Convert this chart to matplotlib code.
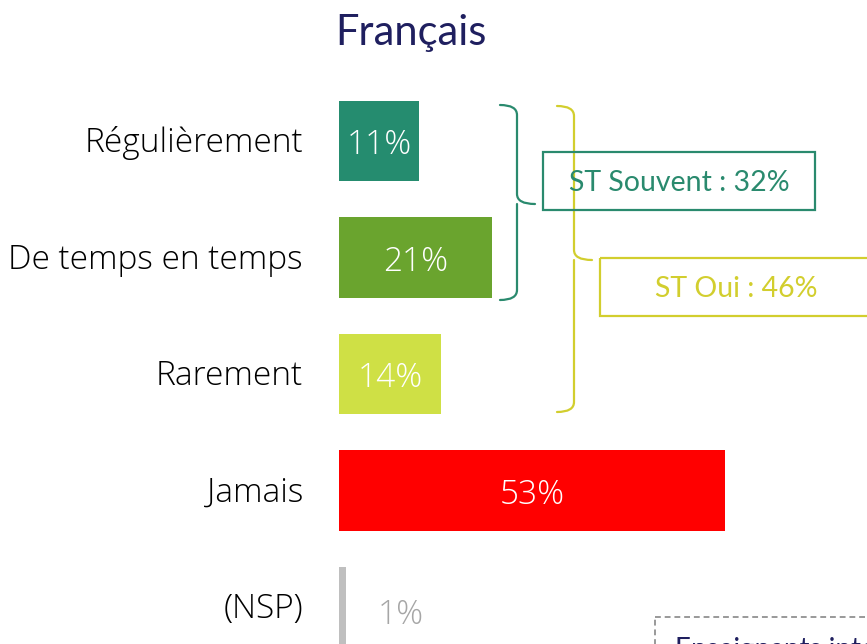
import matplotlib.pyplot as plt
from matplotlib.patches import Rectangle
from matplotlib.path import Path
from matplotlib.patches import PathPatch

plt.rcParams['font.family'] = ['Lato', 'DejaVu Sans']
thin = ['Open Sans', 'DejaVu Sans']

categories = ['Régulièrement', 'De temps en temps', 'Rarement', 'Jamais', '(NSP)']
values = [11, 21, 14, 53, 1]
colors = ['#258C6F', '#6AA42E', '#CFE045', '#FF0000', '#BFBFBF']
label_colors = ['white', 'white', 'white', 'white', '#A6A6A6']
st_souvent = values[0] + values[1]
st_oui = values[0] + values[1] + values[2]

W, H = 867, 644
fig = plt.figure(figsize=(W / 100, H / 100), dpi=100)

# axe des barres : 0 % a x=339 px, 7.28 px par point
left = 339 / W
xmax = (W - 339) / 7.28
top_px = 141 - 116.5 / 2
ymax = 4 + (H - 607) / 116.5
ax = fig.add_axes([left, 0, 1 - left, 1 - top_px / H])
ax.set_xlim(0, xmax)
ax.set_ylim(ymax, -0.5)
ax.axis('off')

y = range(len(categories))
ax.barh(y, values, height=0.695, color=colors)
for i, (v, c) in enumerate(zip(values, label_colors)):
    if v >= 5:
        ax.text(v / 2, i + 0.04, f'{v}%', ha='center', va='center', color=c,
                fontsize=24, family=thin, fontweight=300)
    else:
        ax.text(8.5, i + 0.07, f'{v}%', ha='center', va='center', color=c,
                fontsize=24, family=thin, fontweight=300)
    ax.text(-36 / 7.28, i + 0.02, categories[i], ha='right', va='center',
            color='black', fontsize=24, family=thin, fontweight=300)

# calque en pixels pour le titre, les accolades et les encadres
ov = fig.add_axes([0, 0, 1, 1], facecolor='none')
ov.set_xlim(0, W)
ov.set_ylim(H, 0)
ov.axis('off')

ov.text(411, 33, 'Français', ha='center', va='center', color='#1F1F5F',
        fontsize=30)


def brace(x0, xv, xt, y0, ym, y1, color):
    r = 10
    verts = [(x0, y0), (xv, y0), (xv, y0 + r),
             (xv, ym - r), (xv, ym), (xt, ym),
             (xv, ym), (xv, ym + r),
             (xv, y1 - r), (xv, y1), (x0, y1)]
    codes = [Path.MOVETO, Path.CURVE3, Path.CURVE3,
             Path.LINETO, Path.CURVE3, Path.CURVE3,
             Path.MOVETO, Path.CURVE3,
             Path.LINETO, Path.CURVE3, Path.CURVE3]
    ov.add_patch(PathPatch(Path(verts, codes), fill=False, ec=color, lw=1.6,
                           capstyle='round'))


teal = '#2A8A6E'
yellow = '#D2CE2E'
brace(500, 517, 535, 105, 204, 300, teal)
brace(557, 574, 592, 106, 260, 412, yellow)

ov.add_patch(Rectangle((543, 152), 272, 58, fill=False, ec=teal, lw=1.6))
ov.text(679, 183, f'ST Souvent : {st_souvent}%', ha='center', va='center',
        color=teal, fontsize=20.5)
ov.add_patch(Rectangle((600, 258), 272, 58, fill=False, ec=yellow, lw=1.6,
                       clip_on=False))
ov.text(736, 289, f'ST Oui : {st_oui}%', ha='center', va='center',
        color=yellow, fontsize=20.5)

# encadre pointille du bas
ov.add_patch(Rectangle((655, 617), 230, 80, fill=False, ec='#999999', lw=1.4,
                       ls=(0, (3, 2)), clip_on=True))
ov.text(675, 637, 'Enseignants interrogés', ha='left', va='top',
        color='#1F1F5F', fontsize=20)

fig.savefig('out.png', dpi=100)
